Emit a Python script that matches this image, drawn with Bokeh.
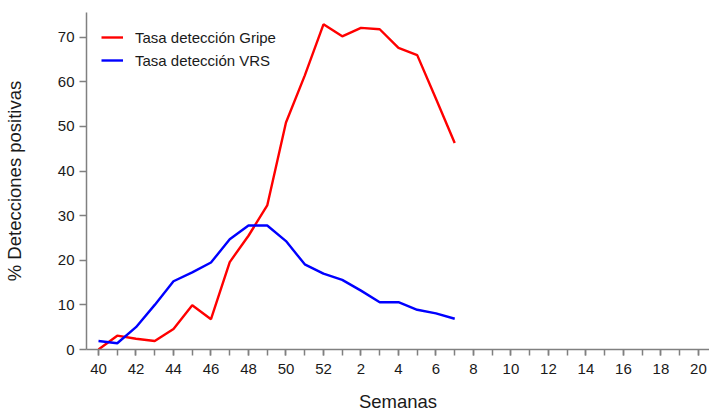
from bokeh.plotting import figure
from bokeh.models import FixedTicker, Range1d
from bokeh.embed import file_html
from bokeh.resources import INLINE

# Epidemiological weeks shown on the x axis (season 40 -> 20)
weeks = list(range(40, 53)) + list(range(1, 21))
x_idx = list(range(len(weeks)))

# Detection rates (%), weeks 40..52 and 1..7
gripe = [0.0, 3.1, 2.4, 1.9, 4.6, 9.9, 6.8, 19.6, 25.5, 32.3,
         50.9, 61.4, 72.9, 70.2, 72.1, 71.8, 67.6, 66.0, 56.2, 46.3]
vrs = [1.9, 1.4, 5.0, 10.0, 15.3, 17.3, 19.5, 24.7, 27.8, 27.8,
       24.3, 19.1, 17.0, 15.6, 13.2, 10.6, 10.6, 8.9, 8.1, 6.9]

y_ticks = [0, 10, 20, 30, 40, 50, 60, 70]

font = "Liberation Sans"
axis_grey = "#808080"

# bokeh's page template has no body margin, so the canvas fills the window
p = figure(width=709, height=414,
           x_range=Range1d(-0.64, 32.59), y_range=Range1d(0, 75.55),
           output_backend="svg", toolbar_location=None,
           min_border_left=85, min_border_right=0,
           min_border_top=12, min_border_bottom=65)

p.line(x_idx[:len(gripe)], gripe, color="#ff0000", line_width=2.4,
       legend_label="Tasa detección Gripe")
p.line(x_idx[:len(vrs)], vrs, color="#0000ff", line_width=2.4,
       legend_label="Tasa detección VRS")

p.outline_line_color = None
p.xgrid.visible = False
p.ygrid.visible = False

# x axis: tick every week, label every second one
p.xaxis.ticker = FixedTicker(ticks=x_idx[::2], minor_ticks=x_idx)
p.xaxis.major_label_overrides = {i: str(weeks[i]) for i in x_idx[::2]}
p.xaxis.axis_label = "Semanas"

p.yaxis.ticker = FixedTicker(ticks=y_ticks, minor_ticks=[])
p.yaxis.axis_label = "% Detecciones positivas"

for ax in (p.xaxis, p.yaxis):
    ax.axis_line_color = axis_grey
    ax.axis_line_width = 1.5
    ax.major_tick_line_color = axis_grey
    ax.major_tick_line_width = 1.5
    ax.minor_tick_line_color = axis_grey
    ax.minor_tick_line_width = 1.5
    ax.major_tick_in = 0
    ax.minor_tick_in = 0
    ax.major_tick_out = 6
    ax.minor_tick_out = 6
    ax.major_label_text_font = font
    ax.major_label_text_font_size = "15px"
    ax.major_label_text_color = "#1a1a1a"
    ax.axis_label_text_font = font
    ax.axis_label_text_font_size = "18.5px"
    ax.axis_label_text_font_style = "normal"
    ax.axis_label_text_color = "#1a1a1a"

p.xaxis.major_label_standoff = 8
p.xaxis.axis_label_standoff = 14
p.yaxis.major_tick_out = 7
p.yaxis.major_label_standoff = 5
p.yaxis.axis_label_standoff = 30

p.legend.location = "top_left"
p.legend.margin = 0
p.legend.padding = 15
p.legend.spacing = 3
p.legend.glyph_width = 22
p.legend.glyph_height = 20
p.legend.label_height = 20
p.legend.label_standoff = 12
p.legend.label_text_font = font
p.legend.label_text_font_size = "15px"
p.legend.label_text_color = "#1a1a1a"
p.legend.border_line_alpha = 0
p.legend.background_fill_alpha = 0

open("out.html", "w").write(file_html(p, INLINE))
